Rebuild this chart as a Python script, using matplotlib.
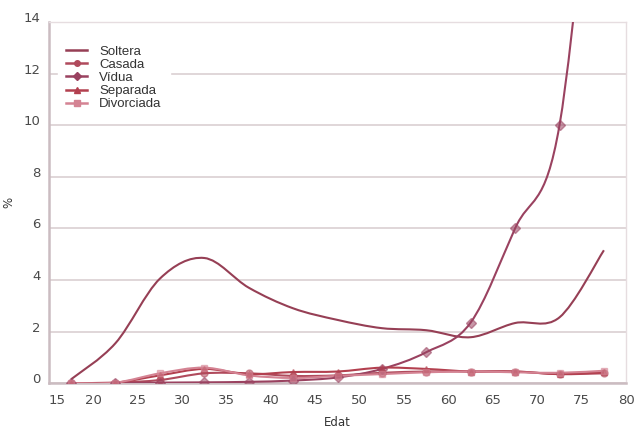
import numpy as np
import matplotlib
matplotlib.use("Agg")
import matplotlib.pyplot as plt
from matplotlib.path import Path
from matplotlib.patches import PathPatch
from matplotlib.lines import Line2D
from matplotlib.transforms import ScaledTranslation

# edat (punt central de cada grup quinquennal)
edat = [17.5, 22.5, 27.5, 32.5, 37.5, 42.5, 47.5, 52.5, 57.5, 62.5, 67.5, 72.5, 77.5]

soltera = [0.15, 1.55, 4.05, 4.85, 3.7, 2.9, 2.45, 2.13, 2.05, 1.78, 2.33, 2.55, 5.15]
casada = [0.0, 0.02, 0.12, 0.38, 0.38, 0.28, 0.3, 0.4, 0.45, 0.45, 0.45, 0.35, 0.38]
vidua = [0.0, 0.0, 0.02, 0.03, 0.05, 0.1, 0.22, 0.55, 1.2, 2.35, 6.0, 10.0, 26.0]
separada = [0.0, 0.02, 0.3, 0.55, 0.35, 0.43, 0.45, 0.6, 0.55, 0.45, 0.45, 0.35, 0.42]
divorciada = [0.0, 0.02, 0.38, 0.6, 0.3, 0.2, 0.28, 0.35, 0.42, 0.45, 0.42, 0.4, 0.48]

noms = ["Soltera", "Casada", "Vídua", "Separada", "Divorciada"]
series = [soltera, casada, vidua, separada, divorciada]
colors = ["#963f55", "#b04a5c", "#9a4260", "#b3404f", "#d48393"]
markers = [None, "o", "D", "^", "s"]

xticks = list(range(15, 81, 5))
yticks = list(range(0, 15, 2))


def smooth_path(x, y):
    # corba de Bezier tipus Catmull-Rom (com les línies suavitzades)
    pts = np.column_stack([x, y])
    verts = [pts[0]]
    codes = [Path.MOVETO]
    n = len(pts)
    for i in range(n - 1):
        p0 = pts[i - 1] if i > 0 else pts[i]
        p1 = pts[i]
        p2 = pts[i + 1]
        p3 = pts[i + 2] if i + 2 < n else pts[i + 1]
        c1 = p1 + (p2 - p0) / 6.0
        c2 = p2 - (p3 - p1) / 6.0
        verts += [c1, c2, p2]
        codes += [Path.CURVE4] * 3
    return Path(verts, codes)


fig = plt.figure(figsize=(6.35, 4.3), dpi=100)
ax = fig.add_axes([0.077, 0.109, 0.909, 0.840])

for s, nom, c, m in zip(series, noms, colors, markers):
    patch = PathPatch(smooth_path(edat, s), fill=False, edgecolor=c, lw=1.5, zorder=3)
    ax.add_patch(patch)
    if m:
        ax.plot(edat, s, linestyle="none", marker=m, ms=5, mfc=c, mec=c,
                alpha=0.55, zorder=4)

ax.set_xlim(15, 80)
ax.set_ylim(0, 14)
ax.set_xticks(xticks)
ax.set_yticks(yticks)
ax.tick_params(length=0, labelsize=9.5, colors="#4a4a4a")
ax.tick_params(axis="y", pad=6)
ax.tick_params(axis="x", pad=8)
ax.yaxis.grid(True, color="#ddd3d5", lw=1.3)
ax.set_axisbelow(True)
for side in ["left", "bottom"]:
    ax.spines[side].set_color("#cbbcc1")
    ax.spines[side].set_linewidth(1.8)
for side in ["right", "top"]:
    ax.spines[side].set_color("#e6dde0")
    ax.spines[side].set_linewidth(1.0)

for lab in ax.get_yticklabels():
    lab.set_transform(lab.get_transform() + ScaledTranslation(0, 3.5 / 72, fig.dpi_scale_trans))
ax.get_xticklabels()[0].set_horizontalalignment("left")

ax.set_xlabel("Edat", fontsize=8.5, color="#333333", labelpad=6)
ax.set_ylabel("%", fontsize=8.5, color="#333333", labelpad=6)

handles = []
for nom, c, m in zip(noms, colors, markers):
    handles.append(Line2D([], [], color=c, lw=1.8, marker=m, ms=4, mfc=c, mec=c))
leg = ax.legend(handles, noms, loc="upper left", bbox_to_anchor=(0.005, 0.975),
                frameon=True, fancybox=False, framealpha=1, edgecolor="white",
                prop={"family": "Liberation Sans", "size": 9.5}, labelspacing=0.07,
                handlelength=1.6, handletextpad=0.9, borderpad=0.6)
for t in leg.get_texts():
    t.set_color("#333333")

fig.savefig("out.png", dpi=100)
